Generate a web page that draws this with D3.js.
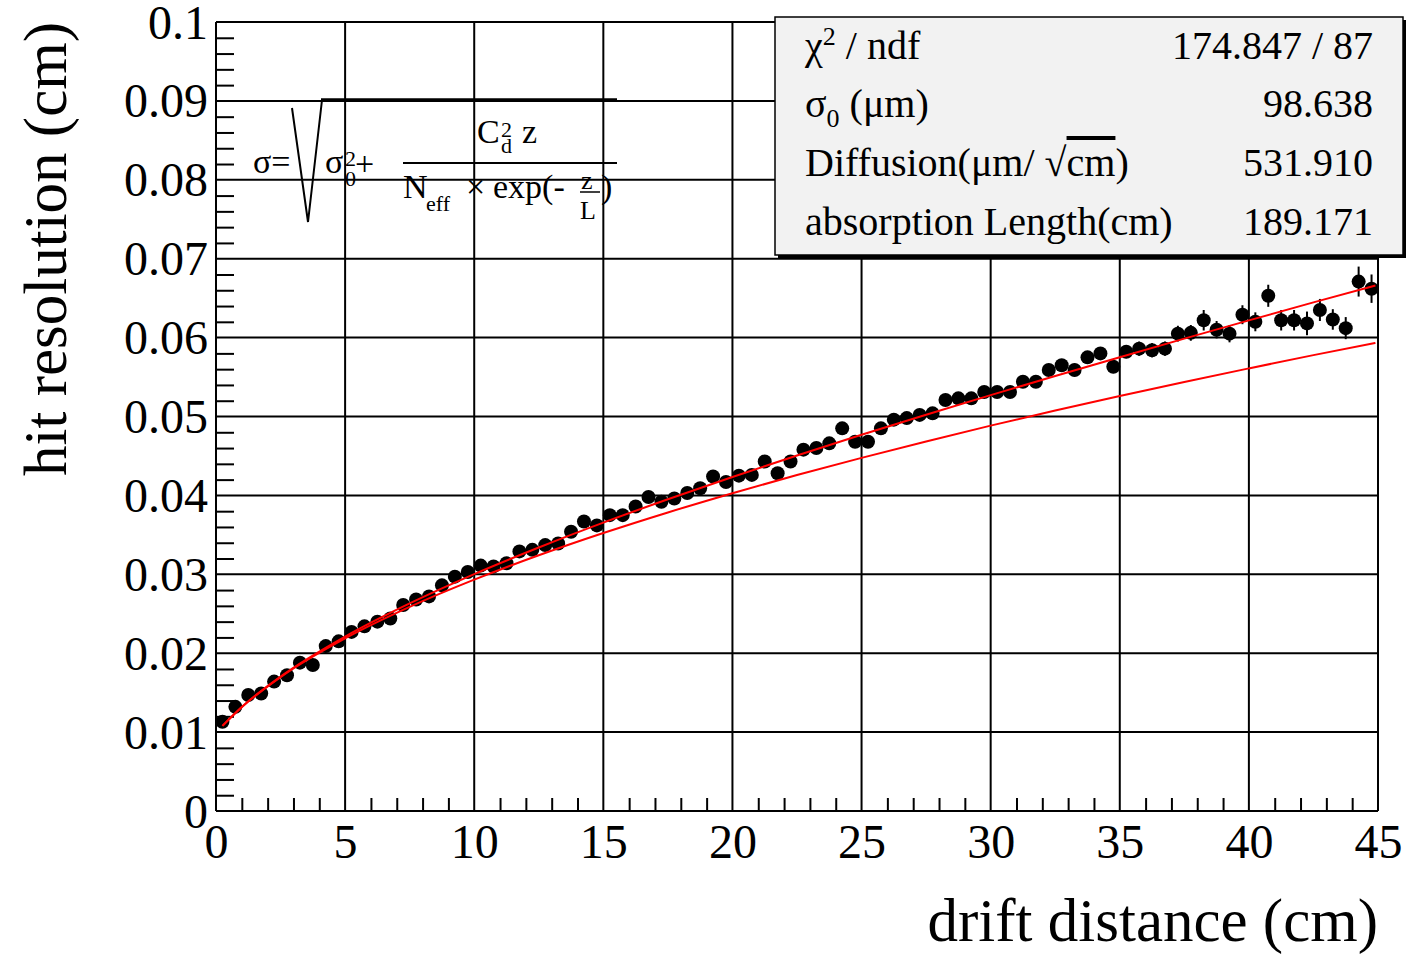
<!DOCTYPE html>
<html>
<head>
<meta charset="utf-8">
<script src="https://cdn.jsdelivr.net/npm/d3@7"></script>
<style>
  html, body { margin: 0; padding: 0; background: #fff; }
  svg { display: block; }
  text { font-family: "Liberation Serif", "DejaVu Serif", serif; fill: #000; }
</style>
</head>
<body>
<svg id="chart" width="1422" height="954"></svg>
<script>
// ---------------- data ----------------
const driftDistance = [
  0.25, 0.75, 1.25, 1.75, 2.25, 2.75, 3.25, 3.75, 4.25, 4.75,
  5.25, 5.75, 6.25, 6.75, 7.25, 7.75, 8.25, 8.75, 9.25, 9.75,
  10.25, 10.75, 11.25, 11.75, 12.25, 12.75, 13.25, 13.75, 14.25, 14.75,
  15.25, 15.75, 16.25, 16.75, 17.25, 17.75, 18.25, 18.75, 19.25, 19.75,
  20.25, 20.75, 21.25, 21.75, 22.25, 22.75, 23.25, 23.75, 24.25, 24.75,
  25.25, 25.75, 26.25, 26.75, 27.25, 27.75, 28.25, 28.75, 29.25, 29.75,
  30.25, 30.75, 31.25, 31.75, 32.25, 32.75, 33.25, 33.75, 34.25, 34.75,
  35.25, 35.75, 36.25, 36.75, 37.25, 37.75, 38.25, 38.75, 39.25, 39.75,
  40.25, 40.75, 41.25, 41.75, 42.25, 42.75, 43.25, 43.75, 44.25, 44.75
];
const hitResolution = [
  0.0113, 0.0132, 0.0147, 0.0149, 0.0164, 0.0172, 0.0188, 0.0185, 0.0209, 0.0215,
  0.0227, 0.0234, 0.0240, 0.0244, 0.0261, 0.0268, 0.0272, 0.0286, 0.0297, 0.0303,
  0.0311, 0.0310, 0.0314, 0.0329, 0.0331, 0.0337, 0.0339, 0.0354, 0.0367, 0.0362,
  0.0375, 0.0375, 0.0386, 0.0398, 0.0392, 0.0396, 0.0403, 0.0409, 0.0424, 0.0417,
  0.0425, 0.0426, 0.0443, 0.0428, 0.0443, 0.0458, 0.0460, 0.0466, 0.0485, 0.0468,
  0.0468, 0.0485, 0.0496, 0.0498, 0.0502, 0.0504, 0.0521, 0.0523, 0.0523, 0.0531,
  0.0531, 0.0531, 0.0544, 0.0544, 0.0559, 0.0565, 0.0559, 0.0575, 0.0580, 0.0563,
  0.0582, 0.0586, 0.0584, 0.0586, 0.0605, 0.0606, 0.0622, 0.0610, 0.0605, 0.0629,
  0.0620, 0.0653, 0.0622, 0.0622, 0.0618, 0.0635, 0.0623, 0.0612, 0.0671, 0.0662
];
const hitResolutionError = [
  0.0002, 0.0002, 0.0002, 0.0002, 0.0002, 0.0002, 0.0002, 0.0002, 0.0002, 0.0002,
  0.0003, 0.0003, 0.0003, 0.0003, 0.0003, 0.0003, 0.0003, 0.0003, 0.0003, 0.0003,
  0.0003, 0.0003, 0.0003, 0.0003, 0.0003, 0.0003, 0.0003, 0.0003, 0.0003, 0.0003,
  0.0004, 0.0004, 0.0004, 0.0004, 0.0004, 0.0004, 0.0004, 0.0004, 0.0004, 0.0004,
  0.0004, 0.0004, 0.0004, 0.0004, 0.0004, 0.0004, 0.0004, 0.0004, 0.0004, 0.0004,
  0.0005, 0.0005, 0.0005, 0.0005, 0.0005, 0.0005, 0.0005, 0.0005, 0.0005, 0.0005,
  0.0006, 0.0006, 0.0007, 0.0007, 0.0007, 0.0007, 0.0008, 0.0008, 0.0008, 0.0008,
  0.0008, 0.0009, 0.0009, 0.0009, 0.0010, 0.0010, 0.0013, 0.0011, 0.0011, 0.0012,
  0.0012, 0.0014, 0.0013, 0.0013, 0.0015, 0.0014, 0.0013, 0.0014, 0.0019, 0.0018
];
// red curves (fit with absorption, and without absorption)
const curveDistance = [0.25, 1, 2.5, 5, 7.5, 10, 12.5, 15, 17.5, 20, 22.5, 25, 27.5, 30, 32.5, 35, 37.5, 40, 42.5, 44.9];
const fitWithAbsorption = [0.01079, 0.01319, 0.01704, 0.02211, 0.02631, 0.03002, 0.03340, 0.03655, 0.03951, 0.04234,
  0.04505, 0.04768, 0.05023, 0.05271, 0.05514, 0.05752, 0.05987, 0.06218, 0.06446, 0.06661];
const fitNoAbsorption = [0.01079, 0.01317, 0.01697, 0.02188, 0.02587, 0.02932, 0.03241, 0.03523, 0.03784, 0.04028,
  0.04258, 0.04476, 0.04684, 0.04884, 0.05075, 0.05260, 0.05438, 0.05610, 0.05778, 0.05932];

const xTickLabels = ["0", "5", "10", "15", "20", "25", "30", "35", "40", "45"];
const yTickLabels = ["0", "0.01", "0.02", "0.03", "0.04", "0.05", "0.06", "0.07", "0.08", "0.09", "0.1"];
const xTitle = "drift distance (cm)";
const yTitle = "hit resolution (cm)";
const statNames = ["chi2", "sigma0", "diffusion", "absorption"];
const statValues = ["174.847 / 87", "98.638", "531.910", "189.171"];

// ---------------- layout ----------------
const L = 216, R = 1378, T = 22, B = 811;
const svg = d3.select("#chart");
const x = d3.scaleLinear().domain([0, 45]).range([L, R]);
const y = d3.scaleLinear().domain([0, 0.1]).range([B, T]);

const xMajor = xTickLabels.map(Number);
const yMajor = yTickLabels.map(Number);
const xMinor = d3.range(0, 46, 1).filter(v => v % 5 !== 0);
const yMinor = d3.range(0, 51, 1).map(v => v * 0.002).filter((v, i) => i % 5 !== 0);

// grid
const grid = svg.append("g").attr("stroke", "#000").attr("stroke-width", 2);
grid.selectAll("line.gx").data(xMajor).join("line")
  .attr("x1", d => x(d)).attr("x2", d => x(d)).attr("y1", T).attr("y2", B);
grid.selectAll("line.gy").data(yMajor).join("line")
  .attr("x1", L).attr("x2", R).attr("y1", d => y(d)).attr("y2", d => y(d));

// axes
const xAxisMinor = d3.axisBottom(x).tickValues(xMinor).tickSize(-13).tickFormat("");
const yAxisMinor = d3.axisLeft(y).tickValues(yMinor).tickSize(-18).tickFormat("");
svg.append("g").attr("transform", `translate(0,${B})`).call(xAxisMinor)
  .call(g => g.select(".domain").remove())
  .selectAll("line").attr("stroke", "#000").attr("stroke-width", 2);
svg.append("g").attr("transform", `translate(${L},0)`).call(yAxisMinor)
  .call(g => g.select(".domain").remove())
  .selectAll("line").attr("stroke", "#000").attr("stroke-width", 2);

const xAxis = d3.axisBottom(x).tickValues(xMajor).tickSize(0).tickPadding(0)
  .tickFormat((d, i) => xTickLabels[i]);
const gx = svg.append("g").attr("transform", `translate(0,${B})`).call(xAxis);
gx.select(".domain").remove();
gx.selectAll("text").attr("dy", null).attr("y", 47).attr("font-size", 48)
  .attr("font-family", "Liberation Serif");

const yAxis = d3.axisLeft(y).tickValues(yMajor).tickSize(0).tickPadding(0)
  .tickFormat((d, i) => yTickLabels[i]);
const gy = svg.append("g").attr("transform", `translate(${L},0)`).call(yAxis);
gy.select(".domain").remove();
gy.selectAll("text").attr("dy", null).attr("x", -8).attr("y", 16).attr("font-size", 48)
  .attr("font-family", "Liberation Serif");

// frame (left and bottom axis lines)
svg.append("line").attr("x1", L).attr("x2", L).attr("y1", T).attr("y2", B).attr("stroke", "#000").attr("stroke-width", 2);
svg.append("line").attr("x1", L).attr("x2", R).attr("y1", B).attr("y2", B).attr("stroke", "#000").attr("stroke-width", 2);

// titles
svg.append("text").attr("x", R).attr("y", 941).attr("text-anchor", "end")
  .attr("font-size", 61).text(xTitle);
svg.append("text").attr("transform", `translate(66,${T}) rotate(-90)`).attr("text-anchor", "end")
  .attr("font-size", 61).text(yTitle);

// data points
const pts = driftDistance.map((d, i) => ({ x: d, y: hitResolution[i], e: hitResolutionError[i] }));
const dataG = svg.append("g");
dataG.selectAll("line.err").data(pts).join("line")
  .attr("x1", d => x(d.x)).attr("x2", d => x(d.x))
  .attr("y1", d => y(d.y - d.e)).attr("y2", d => y(d.y + d.e))
  .attr("stroke", "#000").attr("stroke-width", 2);
dataG.selectAll("circle").data(pts).join("circle")
  .attr("cx", d => x(d.x)).attr("cy", d => y(d.y)).attr("r", 7).attr("fill", "#000");

// curves
const curveData1 = curveDistance.map((d, i) => [d, fitWithAbsorption[i]]);
const curveData2 = curveDistance.map((d, i) => [d, fitNoAbsorption[i]]);
const line = d3.line().x(d => x(d[0])).y(d => y(d[1])).curve(d3.curveMonotoneX);
svg.append("path").attr("d", line(curveData2)).attr("fill", "none").attr("stroke", "#ff0000").attr("stroke-width", 2);
svg.append("path").attr("d", line(curveData1)).attr("fill", "none").attr("stroke", "#ff0000").attr("stroke-width", 2);

// formula
const f = svg.append("g");
const FS = 34;
f.append("text").attr("x", 253).attr("y", 173).attr("font-size", FS).text("σ=");
f.append("path").attr("d", "M292,108 L308,222 L322,100").attr("fill", "none").attr("stroke", "#000").attr("stroke-width", 2);
f.append("line").attr("x1", 321).attr("x2", 617).attr("y1", 100).attr("y2", 100).attr("stroke", "#000").attr("stroke-width", 3.5);
f.append("text").attr("x", 325).attr("y", 173).attr("font-size", FS).text("σ");
f.append("text").attr("x", 345).attr("y", 166).attr("font-size", 22).text("2");
f.append("text").attr("x", 345).attr("y", 186).attr("font-size", 22).text("0");
f.append("text").attr("x", 355).attr("y", 175).attr("font-size", FS).text("+");
f.append("line").attr("x1", 403).attr("x2", 617).attr("y1", 163).attr("y2", 163).attr("stroke", "#000").attr("stroke-width", 2);
f.append("text").attr("x", 477).attr("y", 143).attr("font-size", FS).text("C");
f.append("text").attr("x", 501).attr("y", 137).attr("font-size", 22).text("2");
f.append("text").attr("x", 501).attr("y", 153).attr("font-size", 22).text("d");
f.append("text").attr("x", 522).attr("y", 143).attr("font-size", FS).text("z");
f.append("text").attr("x", 403).attr("y", 198).attr("font-size", FS).text("N");
f.append("text").attr("x", 426).attr("y", 211).attr("font-size", 22).text("eff");
f.append("text").attr("x", 466).attr("y", 198).attr("font-size", FS).text("×");
f.append("text").attr("x", 493).attr("y", 198).attr("font-size", FS).text("exp(-");
f.append("text").attr("x", 581).attr("y", 189).attr("font-size", 26).text("z");
f.append("line").attr("x1", 580).attr("x2", 600).attr("y1", 192).attr("y2", 192).attr("stroke", "#000").attr("stroke-width", 1.5);
f.append("text").attr("x", 580).attr("y", 219).attr("font-size", 26).text("L");
f.append("text").attr("x", 601).attr("y", 198).attr("font-size", FS).text(")");

// stats box
const bx = 775, by = 17, bw = 628, bh = 238;
svg.append("rect").attr("x", bx + 3).attr("y", by + 3).attr("width", bw).attr("height", bh).attr("fill", "#000");
svg.append("rect").attr("x", bx).attr("y", by).attr("width", bw).attr("height", bh)
  .attr("fill", "#f2f2f2").attr("stroke", "#000").attr("stroke-width", 1.5);
const SF = 40;
const rowY = [59, 117, 176, 235];
const sl = svg.append("g");
// row 1
let t = sl.append("text").attr("x", 805).attr("y", rowY[0]).attr("font-size", SF);
t.append("tspan").text("χ");
t.append("tspan").attr("font-size", 26).attr("dy", -14).text("2");
t.append("tspan").attr("dy", 14).text(" / ndf");
// row 2
t = sl.append("text").attr("x", 805).attr("y", rowY[1]).attr("font-size", SF);
t.append("tspan").text("σ");
t.append("tspan").attr("font-size", 26).attr("dy", 10).text("0");
t.append("tspan").attr("dy", -10).text(" (μm)");
// row 3
t = sl.append("text").attr("x", 805).attr("y", rowY[2]).attr("font-size", SF);
t.append("tspan").text("Diffusion(μm/ ");
t.append("tspan").text("√");
t.append("tspan").attr("text-decoration", "overline").text("cm");
t.append("tspan").text(")");
// row 4
sl.append("text").attr("x", 805).attr("y", rowY[3]).attr("font-size", SF).text("absorption Length(cm)");
sl.selectAll("text.val").data(statValues).join("text").attr("class", "val")
  .attr("x", 1373).attr("y", (d, i) => rowY[i]).attr("text-anchor", "end").attr("font-size", SF).text(d => d);
</script>
</body>
</html>
